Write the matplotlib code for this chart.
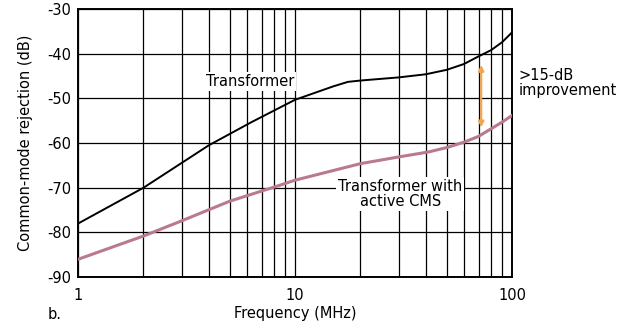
import numpy as np
import matplotlib.pyplot as plt
from matplotlib.ticker import FixedLocator, NullFormatter

# Values (frequency in MHz, rejection in dB)
freq_xfmr = [1, 2, 4, 6.3, 10, 15, 17.5, 20, 30, 40, 50, 60, 70, 80, 90, 100]
cmr_xfmr = [-78, -70, -60.5, -55.3, -50.3, -47.3, -46.3, -46.0, -45.3, -44.6, -43.6, -42.3, -40.6, -39.2, -37.4, -35.2]

freq_cms = [1, 2, 3, 5, 8.3, 10, 20, 30, 41, 50, 60, 70, 80, 90, 100]
cmr_cms = [-86, -80.8, -77.4, -73.0, -69.6, -68.3, -64.6, -63.1, -62.0, -61.0, -59.8, -58.5, -56.8, -55.3, -53.8]

y_ticks = [-30, -40, -50, -60, -70, -80, -90]
x_ticks = [1, 10, 100]
x_minor = [2, 3, 4, 5, 6, 7, 8, 9, 20, 30, 40, 50, 60, 70, 80, 90]

# improvement arrow endpoints
arrow_f = 72
arrow_top, arrow_bot = -42.5, -56.5

plt.rcParams['font.family'] = 'DejaVu Sans'
fig = plt.figure(figsize=(6.2, 3.23), dpi=100)
ax = fig.add_axes([0.126, 0.142, 0.700, 0.830])

ax.set_xscale('log')
ax.set_xlim(1, 100)
ax.set_ylim(-90, -30)

ax.xaxis.set_major_locator(FixedLocator(x_ticks))
ax.xaxis.set_minor_locator(FixedLocator(x_minor))
ax.xaxis.set_minor_formatter(NullFormatter())
ax.set_xticklabels([str(t) for t in x_ticks])
ax.set_yticks(y_ticks)
ax.set_yticklabels([str(t).replace('\u2212', '-') for t in y_ticks])
ax.tick_params(which='both', length=0, labelsize=10.5)
ax.tick_params(axis='x', pad=8)
ax.tick_params(axis='y', pad=5)

ax.grid(True, which='both', axis='x', color='black', lw=0.9)
ax.grid(True, which='major', axis='y', color='black', lw=0.9)
for s in ax.spines.values():
    s.set_linewidth(1.4)

ax.plot(freq_xfmr, cmr_xfmr, color='black', lw=1.4, zorder=3)
ax.plot(freq_cms, cmr_cms, color='#b97a8c', lw=2.2, zorder=3)

ax.annotate('', xy=(arrow_f, arrow_bot), xytext=(arrow_f, arrow_top),
            arrowprops=dict(arrowstyle='<|-|>', color='#f0a650', lw=1.6,
                            mutation_scale=8, shrinkA=0, shrinkB=0), zorder=4)

ax.text(6.2, -46.3, 'Transformer', fontsize=10.5, ha='center', va='center',
        bbox=dict(facecolor='white', edgecolor='none', pad=1.5), zorder=5)
ax.text(30.5, -71.4, 'Transformer with\nactive CMS', fontsize=10.5, ha='center',
        va='center', linespacing=1.0,
        bbox=dict(facecolor='white', edgecolor='none', pad=1.5), zorder=5)
ax.text(1.015, 0.725, '>15-dB\nimprovement', transform=ax.transAxes, fontsize=10.5,
        ha='left', va='center', linespacing=1.0)

ax.set_ylabel('Common-mode rejection (dB)', fontsize=10.5, labelpad=10)
ax.set_xlabel('Frequency (MHz)', fontsize=10.5, labelpad=2)
fig.text(0.077, 0.025, 'b.', fontsize=10.5, ha='left', va='center')

fig.savefig('out.png', dpi=100, facecolor='white')
